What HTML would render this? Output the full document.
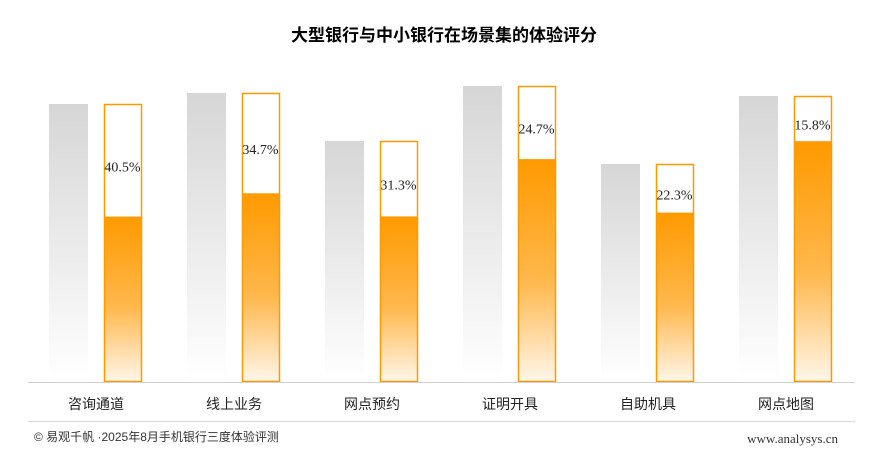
<!DOCTYPE html>
<html><head><meta charset="utf-8"><style>
body{margin:0;background:#fff;width:889px;height:460px;overflow:hidden;font-family:"Liberation Sans","Noto Sans CJK SC",sans-serif}
</style></head><body>
<svg width="889" height="460">
<defs>
<linearGradient id="gg" x1="0" y1="0" x2="0" y2="1"><stop offset="0" stop-color="#d6d6d6"/><stop offset="1" stop-color="#ffffff"/></linearGradient>
<linearGradient id="og" x1="0" y1="0" x2="0" y2="1"><stop offset="0" stop-color="#ff9a00"/><stop offset="0.55" stop-color="#ffb84d"/><stop offset="1" stop-color="#fff6ea"/></linearGradient>
</defs>
<text x="444" y="41" text-anchor="middle" font-size="17" font-weight="bold" fill="#000">大型银行与中小银行在场景集的体验评分</text>
<g id="bars"></g>
<line x1="28" y1="382.5" x2="855" y2="382.5" stroke="#d0d0d0"/>
<line x1="28" y1="421.5" x2="855" y2="421.5" stroke="#d8d8d8"/>
<text x="34" y="441" font-size="12" fill="#333">© 易观千帆 ·2025年8月手机银行三度体验评测</text>
<text x="838" y="443" text-anchor="end" font-size="13" fill="#333" font-family="Liberation Serif,serif">www.analysys.cn</text>
</svg>
<script>
const categories=["咨询通道","线上业务","网点预约","证明开具","自助机具","网点地图"];
const bigBankScores=[278,289,241,296,218,286];
const gapPercents=[40.5,34.7,31.3,24.7,22.3,15.8];
const baseY=382;
function y(v){return baseY-v;}
function xGroup(i){return 49+i*138;}
const g=document.getElementById('bars');
const ns="http://www.w3.org/2000/svg";
function mk(t,a){const e=document.createElementNS(ns,t);for(const k in a)e.setAttribute(k,a[k]);g.appendChild(e);return e;}
categories.forEach((c,i)=>{
  const x0=xGroup(i),big=bigBankScores[i],small=big*(1-gapPercents[i]/100);
  const r1=mk('rect',{x:x0,y:y(big),width:39,height:big,fill:'url(#gg)'});
  
  
  const r2=mk('rect',{x:x0+55,y:y(small),width:38,height:small,fill:'url(#og)'});
  
  
  const r3=mk('rect',{x:x0+55.5,y:y(big)+0.5,width:37,height:big-1,fill:'none',stroke:'#ff9900','stroke-width':1.5});
  
  
  const t=mk('text',{x:x0+73.5,y:(y(big)+y(small))/2+11,'text-anchor':'middle','font-size':14,'font-family':'Liberation Serif,serif',fill:'#222'});
  t.textContent=gapPercents[i].toFixed(1)+'%';
  
  
  const l=mk('text',{x:x0+47,y:409,'text-anchor':'middle','font-size':14,fill:'#222'});
  l.textContent=c;
  
  
});
</script>
</body></html>
